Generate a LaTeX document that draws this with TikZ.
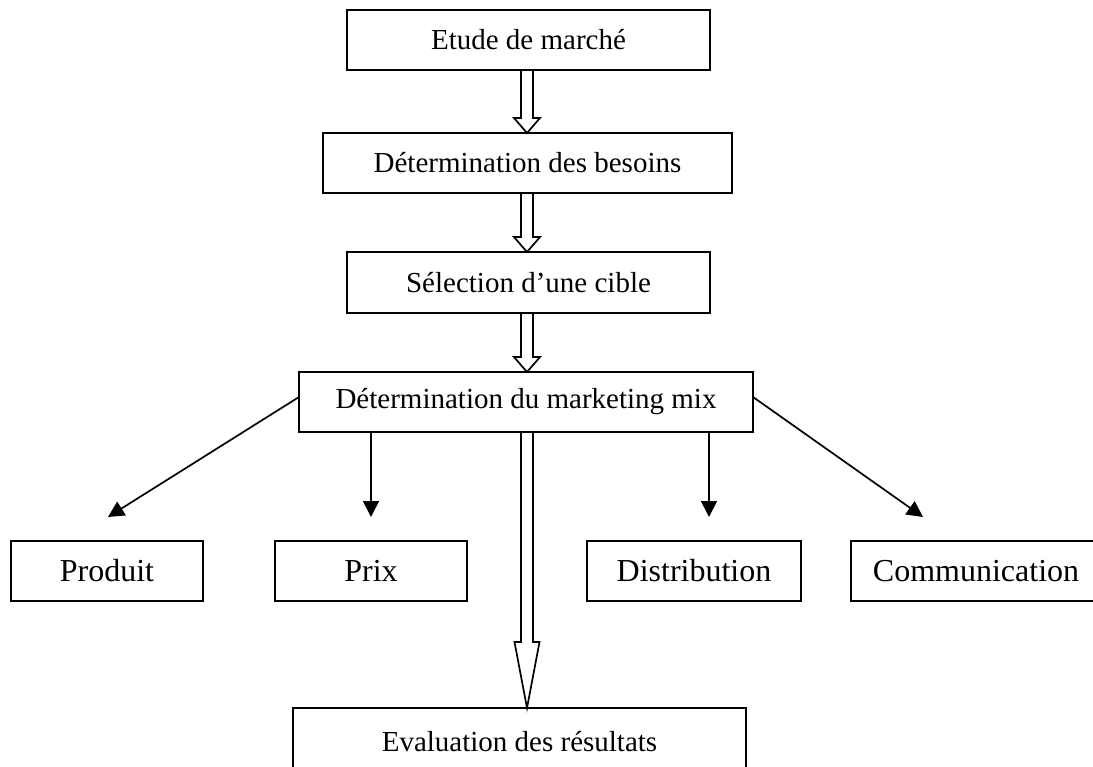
\documentclass[tikz,border=0pt]{standalone}
\usepackage{fontspec}
\setmainfont{Liberation Serif}
\usetikzlibrary{arrows.meta,calc}
\begin{document}
\begin{tikzpicture}[x=1pt,y=-1pt,
  box/.style={draw,line width=1.8pt,rectangle,inner sep=0pt,outer sep=0pt,
              font=\fontsize{29}{34}\selectfont},
  bigbox/.style={box,font=\fontsize{32}{38}\selectfont},
  solidarrow/.style={line width=1.7pt,-{Triangle[length=16pt,width=16pt]}},
  hollow/.style={line width=1.7pt,line join=miter}]
\clip (0,0) rectangle (1093,767);
% boxes
\node[box,minimum width=363pt,minimum height=60pt] (etude) at (528.5,40) {Etude de marché};
\node[box,minimum width=409pt,minimum height=60pt] (besoins) at (527.5,163) {Détermination des besoins};
\node[box,minimum width=363pt,minimum height=61pt] (selection) at (528.5,282.5) {Sélection d’une cible};
\node[box,minimum width=454pt,minimum height=60pt] (mix) at (526,402) {Détermination du marketing mix};
\node[bigbox,minimum width=192pt,minimum height=60pt] (produit) at (107,571) {Produit};
\node[bigbox,minimum width=192pt,minimum height=60pt] (prix) at (371,571) {Prix};
\node[bigbox,minimum width=214pt,minimum height=60pt] (distribution) at (694,571) {Distribution};
\node[bigbox,minimum width=250pt,minimum height=60pt] (communication) at (976,571) {Communication};
\node[box,minimum width=453pt,minimum height=68pt] (evaluation) at (519.5,742) {Evaluation des résultats};
% spine for hollow arrows
\coordinate (spine) at (527,0);
% hollow arrows
\draw[hollow] ($(spine|-etude.south)+(-6,0)$) -- ($(spine|-besoins.north)+(-6,-15)$) -- ++(-7,0)
  -- (spine|-besoins.north) -- ($(spine|-besoins.north)+(13,-15)$) -- ++(-7,0)
  -- ($(spine|-etude.south)+(6,0)$);
\draw[hollow] ($(spine|-besoins.south)+(-6,0)$) -- ($(spine|-selection.north)+(-6,-15)$) -- ++(-7,0)
  -- (spine|-selection.north) -- ($(spine|-selection.north)+(13,-15)$) -- ++(-7,0)
  -- ($(spine|-besoins.south)+(6,0)$);
\draw[hollow] ($(spine|-selection.south)+(-6,0)$) -- ($(spine|-mix.north)+(-6,-15)$) -- ++(-7,0)
  -- (spine|-mix.north) -- ($(spine|-mix.north)+(13,-15)$) -- ++(-7,0)
  -- ($(spine|-selection.south)+(6,0)$);
\draw[hollow] ($(spine|-mix.south)+(-6,0)$) -- ($(spine|-evaluation.north)+(-6,-66)$) -- ++(-6.5,0)
  -- (spine|-evaluation.north) -- ($(spine|-evaluation.north)+(12.5,-66)$) -- ++(-6.5,0)
  -- ($(spine|-mix.south)+(6,0)$);
% solid arrows
\coordinate (pT) at ($(produit.north)+(1,-24)$);
\coordinate (xT) at ($(prix.north)+(0,-24)$);
\coordinate (dT) at ($(distribution.north)+(15,-24)$);
\coordinate (cT) at ($(communication.north)+(-53,-24)$);
\draw[solidarrow] ($(mix.west)+(0,-5)$) -- (pT);
\draw[solidarrow] (xT|-mix.south) -- (xT);
\draw[solidarrow] (dT|-mix.south) -- (dT);
\draw[solidarrow] ($(mix.east)+(0,-5)$) -- (cT);
\end{tikzpicture}
\end{document}
